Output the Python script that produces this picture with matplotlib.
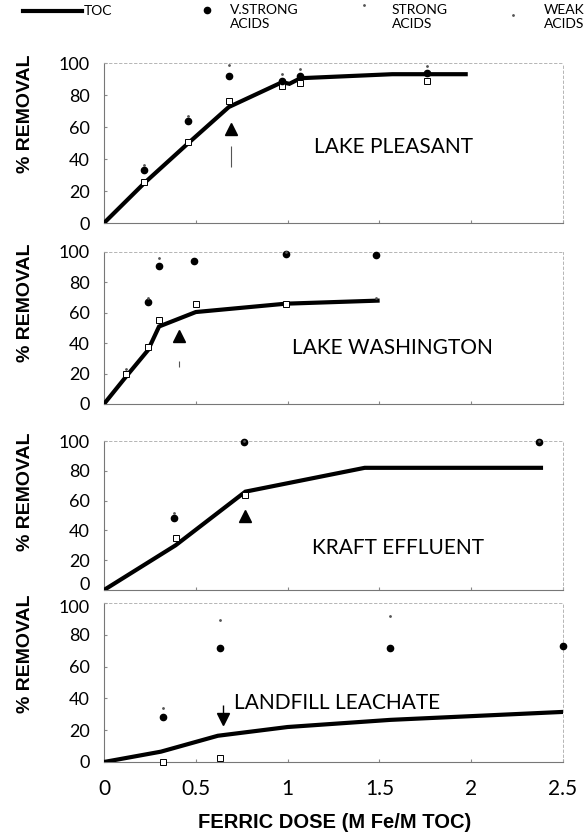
"""
Four stacked panels: % removal of TOC and acid fractions vs ferric dose.
"""

import matplotlib

matplotlib.use("Agg")
import matplotlib.pyplot as plt
from matplotlib.lines import Line2D

LIGHT_FONT = ["Lato", "DejaVu Sans"]
BOLD_FONT = ["Liberation Sans Narrow", "Liberation Sans", "DejaVu Sans"]

# ---- data ---------------------------------------------------------------
site_names = ["LAKE PLEASANT", "LAKE WASHINGTON", "KRAFT EFFLUENT", "LANDFILL LEACHATE"]

toc_x = [
    [0, 0.22, 0.46, 0.68, 0.97, 1.01, 1.07, 1.57, 1.76, 1.97],
    [0, 0.12, 0.24, 0.30, 0.50, 0.99, 1.49],
    [0, 0.39, 0.77, 1.42, 2.38],
    [0, 0.31, 0.62, 1.00, 1.56, 2.50],
]
toc_y = [
    [0, 25, 50, 72.5, 88, 87, 90.5, 93, 93, 93],
    [0, 18, 35.5, 51, 60.5, 66, 68],
    [0, 30, 66, 82, 82],
    [0, 6.5, 16.5, 22, 26.5, 31.5],
]

vstrong_x = [
    [0.22, 0.46, 0.68, 0.97, 1.07, 1.76],
    [0.24, 0.30, 0.49, 0.99, 1.48],
    [0.38, 0.76, 2.37],
    [0.32, 0.63, 1.56, 2.50],
]
vstrong_y = [
    [33, 64, 92, 89, 92, 94],
    [67, 91, 94, 99, 98],
    [48, 99, 99],
    [28, 72, 71.5, 73],
]

strong_x = [
    [0.22, 0.46, 0.68, 0.97, 1.07, 1.76],
    [0.12, 0.24, 0.30, 0.50, 0.99],
    [0.39, 0.77],
    [0.32, 0.63],
]
strong_y = [
    [25.5, 50.5, 76, 85.5, 87.5, 89],
    [20, 37.5, 55, 66, 66],
    [35, 64],
    [0, 2.5],
]

weak_x = [
    [0.22, 0.46, 0.68, 0.97, 1.07, 1.76],
    [0.12, 0.24, 0.30, 0.99, 1.48],
    [0.38, 0.76, 2.37],
    [0.32, 0.63, 1.56],
]
weak_y = [
    [36, 67, 99, 93, 96, 98],
    [23, 70, 96, 100, 70],
    [52, 100, 100],
    [34, 89, 92],
]

# dose markers (filled triangles / arrow)
marker_x = [0.69, 0.41, 0.77, 0.65]
marker_y = [59, 44.5, 50, 27]
marker_kind = ["^", "^", "^", "v"]

x_ticks = [0, 0.5, 1, 1.5, 2, 2.5]
x_tick_labels = ["0", "0.5", "1", "1.5", "2", "2.5"]
y_ticks = [0, 20, 40, 60, 80, 100]

# ---- layout (pixels of the 584x836 reference) ---------------------------
W, H = 584, 836
panel_px = [(63, 223), (252, 404), (441, 590), (603, 762)]
label_pos = [(1.575, 47.7, "center"), (1.57, 37, "center"), (1.6, 28, "center"), (0.71, 37, "left")]
# vertical nudge (points) of the end tick labels where two panels meet
end_label_nudge = {(2, 0): 3.5, (3, 100): -3.5}


def fx(px):
    return px / W


def fy(py):
    return 1 - py / H


fig = plt.figure(figsize=(W / 100, H / 100), dpi=100)
fig.patch.set_facecolor("white")

for i, (top, bottom) in enumerate(panel_px):
    ax = fig.add_axes([fx(104), fy(bottom), fx(563) - fx(104), (bottom - top) / H])
    ax.set_xlim(0, 2.5)
    ax.set_ylim(0, 100)

    ax.plot(toc_x[i], toc_y[i], color="black", lw=3.0, solid_joinstyle="miter", zorder=3)
    ax.plot(strong_x[i], strong_y[i], "s", ms=4.5, mfc="white", mec="black", mew=0.7,
            clip_on=False, zorder=4)
    ax.plot(vstrong_x[i], vstrong_y[i], "o", ms=4.5, color="black", clip_on=False, zorder=5)
    ax.plot(weak_x[i], weak_y[i], ".", ms=2, color="#555555", clip_on=False, zorder=5)

    ax.plot(marker_x[i], marker_y[i], marker_kind[i], ms=9, color="black", zorder=5)
    if marker_kind[i] == "v":
        ax.vlines(marker_x[i], marker_y[i] + 3, marker_y[i] + 9, color="black", lw=1.0)
    elif i == 0:
        ax.vlines(marker_x[i], 35, 48, color="#555555", lw=0.8)
    elif i == 1:
        ax.vlines(marker_x[i], 24.5, 28, color="#555555", lw=0.8)

    lx, ly, ha = label_pos[i]
    ax.text(lx, ly, site_names[i], ha=ha, va="center", fontsize=15, family=LIGHT_FONT)

    for side in ("left", "bottom"):
        ax.spines[side].set_color("#777777")
        ax.spines[side].set_linewidth(0.8)
    for side in ("top", "right"):
        ax.spines[side].set_color("#aaaaaa")
        ax.spines[side].set_linewidth(0.6)
        ax.spines[side].set_linestyle((0, (3, 3)))

    ax.set_yticks(y_ticks)
    ytl = []
    for v in y_ticks:
        if (i, v) in end_label_nudge:
            ytl.append("")
            ax.annotate(str(v), xy=(0, v), xycoords=("axes fraction", "data"),
                        xytext=(-10, end_label_nudge[(i, v)]), textcoords="offset points",
                        ha="right", va="center", fontsize=13, family=LIGHT_FONT,
                        annotation_clip=False)
        else:
            ytl.append(str(v))
    ax.set_yticklabels(ytl, family=LIGHT_FONT, fontsize=13)
    ax.set_xticks(x_ticks)
    if i == 3:
        ax.set_xticklabels(x_tick_labels, family=LIGHT_FONT, fontsize=15)
    else:
        ax.set_xticklabels([])
    ax.tick_params(axis="y", length=2, pad=10, color="#888888", direction="in")
    ax.tick_params(axis="x", length=2, pad=12, color="#888888", direction="in")

    fig.text(fx(26), fy(top + 51), "% REMOVAL", rotation=90, ha="center", va="center",
             fontsize=14, fontweight="bold", family=BOLD_FONT)

fig.text(fx(335), fy(822), "FERRIC DOSE (M Fe/M TOC)", ha="center", va="center",
         fontsize=14.5, fontweight="bold", family=["Liberation Sans", "DejaVu Sans"])

# ---- legend across the top ----------------------------------------------
fig.add_artist(Line2D([fx(23), fx(82)], [fy(11), fy(11)], color="black", lw=3.0))
fig.text(fx(84), fy(11), "TOC", ha="left", va="center", fontsize=10, family=LIGHT_FONT)
fig.add_artist(Line2D([fx(207)], [fy(10)], marker="o", ms=4.5, color="black", ls="none"))
fig.text(fx(230), fy(4), "V.STRONG\nACIDS", ha="left", va="top", fontsize=10,
         family=LIGHT_FONT, linespacing=1.25)
fig.add_artist(Line2D([fx(364)], [fy(5)], marker=".", ms=2, color="#555555", ls="none"))
fig.text(fx(392), fy(4), "STRONG\nACIDS", ha="left", va="top", fontsize=10,
         family=LIGHT_FONT, linespacing=1.25)
fig.add_artist(Line2D([fx(513)], [fy(15)], marker=".", ms=2, color="#555555", ls="none"))
fig.text(fx(544), fy(4), "WEAK\nACIDS", ha="left", va="top", fontsize=10,
         family=LIGHT_FONT, linespacing=1.25)

fig.savefig("out.png", dpi=100, facecolor="white")
